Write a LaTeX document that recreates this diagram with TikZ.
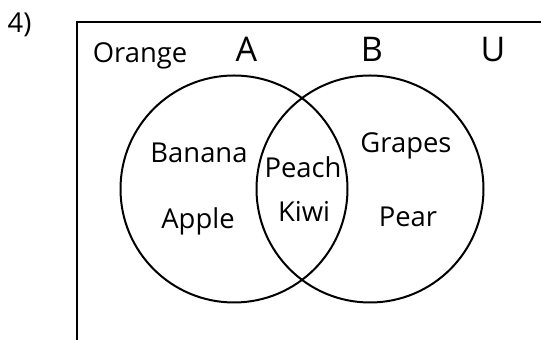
\documentclass[tikz,border=0pt]{standalone}
\usepackage{fontspec}
\setmainfont{Open Sans}
\usetikzlibrary{positioning}

\begin{document}
\begin{tikzpicture}[x=0.5pt, y=-0.5pt, line width=1pt,
    conj/.style={draw, circle, minimum size=113.5pt, inner sep=0pt},
    rotulo/.style={anchor=base, inner sep=0pt, font=\fontsize{13.7}{16}\selectfont},
    nome/.style={rotulo, font=\fontsize{17}{20}\selectfont}]
    \useasboundingbox (0,0) rectangle (541,340);

    % numero do exercicio
    \node[rotulo] (num) at (19.5,33) {4)};

    % universo
    \coordinate (canto) at (77,22);
    \coordinate (dir) at (541,22);
    \coordinate (baixo) at (77,340);
    \draw (dir) -- (canto) -- (baixo);

    % conjuntos A e B
    \node[conj] (cA) at (234,189) {};
    \node[conj] (cB) at (370,189) {};

    % nomes dos conjuntos
    \node[rotulo] (fora) at (140,63) {Orange};
    \node[nome] (nA) at (246.5,62) {A};
    \node[nome] (nB) at (372,62) {B};
    \node[nome] (nU) at (493,62) {U};

    % elementos
    \node[rotulo] (banana) at (199,163) {Banana};
    \node[rotulo] (apple) at (198,229) {Apple};
    \node[rotulo] (peach) at (303,178) {Peach};
    \node[rotulo] (kiwi) at (304,222) {Kiwi};
    \node[rotulo] (grapes) at (406,153) {Grapes};
    \node[rotulo] (pear) at (408,227) {Pear};

\end{tikzpicture}
\end{document}
